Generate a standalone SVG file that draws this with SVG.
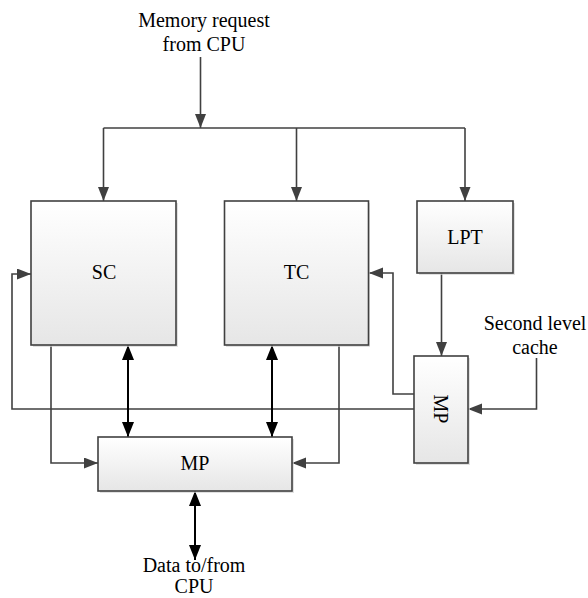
<svg xmlns="http://www.w3.org/2000/svg" width="588" height="598" viewBox="0 0 588 598" font-family="'Liberation Serif', 'Times New Roman', serif" font-size="20">
<style>
  .box{fill:url(#g);stroke:#404040;stroke-width:1.6}
  .sh{fill:#d4d4d4;opacity:0.7}
  .ln{fill:none;stroke:#404040;stroke-width:1.6}
  .bk{fill:none;stroke:#000;stroke-width:2}
  .lnA{marker-end:url(#ag)}
  .bkA{marker-start:url(#ab);marker-end:url(#ab)}
  .t{font-family:'Liberation Serif','Times New Roman',serif;font-size:20px;fill:#000}
</style>
<defs>
  <linearGradient id="g" x1="0" y1="0" x2="0" y2="1">
    <stop offset="0" stop-color="#ffffff"/>
    <stop offset="1" stop-color="#e6e6e6"/>
  </linearGradient>
  <marker id="ag" markerUnits="userSpaceOnUse" markerWidth="15" markerHeight="12" refX="14" refY="5.5" orient="auto">
    <path d="M0,0 L14,5.5 L0,11 z" fill="#404040"/>
  </marker>
  <marker id="ab" markerUnits="userSpaceOnUse" markerWidth="16" markerHeight="13" refX="15" refY="6" orient="auto-start-reverse">
    <path d="M0,0 L15,6 L0,12 z" fill="#000"/>
  </marker>
</defs>

<g id="label-top">
  <text class="t" font-family="Liberation Serif, serif" x="204" y="27" text-anchor="middle">Memory request</text>
  <text class="t" font-family="Liberation Serif, serif" x="204" y="51" text-anchor="middle">from CPU</text>
</g>
<g id="label-l2">
  <text class="t" font-family="Liberation Serif, serif" x="535" y="330" text-anchor="middle">Second level</text>
  <text class="t" font-family="Liberation Serif, serif" x="535" y="354" text-anchor="middle">cache</text>
</g>
<g id="label-data">
  <text class="t" font-family="Liberation Serif, serif" x="194" y="572" text-anchor="middle">Data to/from</text>
  <text class="t" font-family="Liberation Serif, serif" x="194" y="593" text-anchor="middle">CPU</text>
</g>

<g id="connectors">
  <path class="ln lnA" d="M200.5,57 V128"/>
  <path class="ln" d="M103.5,128 H465"/>
  <path class="ln lnA" d="M103.5,128 V201"/>
  <path class="ln lnA" d="M296.5,128 V201"/>
  <path class="ln lnA" d="M465,128 V201"/>
  <path class="ln lnA" d="M441.5,273 V356"/>
  <path class="ln lnA" d="M536.5,358 V409 H468"/>
  <path class="ln lnA" d="M414,394 H393 V273 H369"/>
  <path class="ln lnA" d="M414,409 H12 V274 H31"/>
  <path class="ln lnA" d="M51,345 V463 H98"/>
  <path class="ln lnA" d="M339,345 V463 H292"/>
  <path class="bk bkA" d="M128,345 V437"/>
  <path class="bk bkA" d="M272,345 V437"/>
  <path class="bk bkA" d="M195,491 V560"/>
</g>

<g id="SC">
  <rect class="sh" x="33" y="203" width="145" height="144"/>
  <rect class="box" x="31" y="201" width="145" height="144"/>
  <text class="t" font-family="Liberation Serif, serif" x="104" y="279" text-anchor="middle">SC</text>
</g>
<g id="TC">
  <rect class="sh" x="226" y="203" width="144" height="144"/>
  <rect class="box" x="224.5" y="201" width="144" height="144"/>
  <text class="t" font-family="Liberation Serif, serif" x="296.5" y="279" text-anchor="middle">TC</text>
</g>
<g id="LPT">
  <rect class="sh" x="419" y="203" width="96" height="72"/>
  <rect class="box" x="417" y="201" width="96" height="72"/>
  <text class="t" font-family="Liberation Serif, serif" x="465" y="244" text-anchor="middle">LPT</text>
</g>
<g id="MP-right">
  <rect class="sh" x="416" y="358" width="54" height="107"/>
  <rect class="box" x="414" y="356" width="54" height="107"/>
  <text class="t" font-family="Liberation Serif, serif" transform="translate(441,409) rotate(90)" x="0" y="7" text-anchor="middle">MP</text>
</g>
<g id="MP-bottom">
  <rect class="sh" x="100" y="439" width="194" height="54"/>
  <rect class="box" x="98" y="437" width="194" height="54"/>
  <text class="t" font-family="Liberation Serif, serif" x="195" y="470" text-anchor="middle">MP</text>
</g>
</svg>
